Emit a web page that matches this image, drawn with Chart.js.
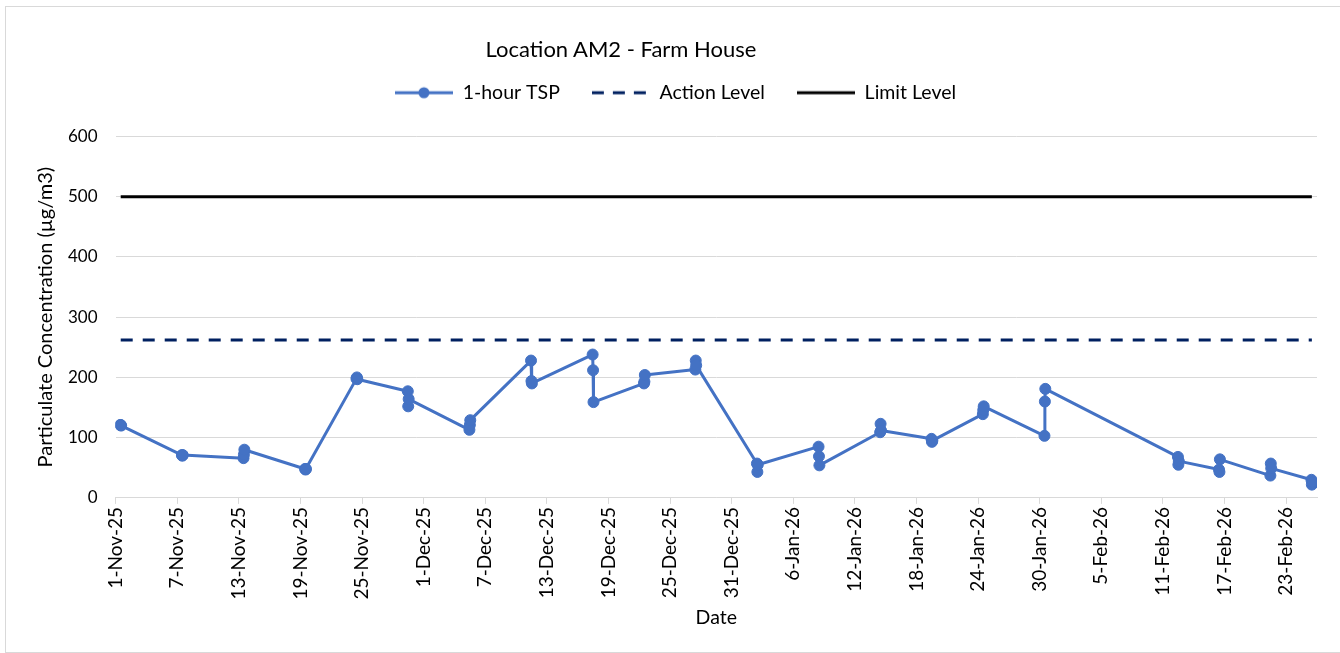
<!DOCTYPE html>
<html>
<head>
<meta charset="utf-8">
<script src="https://cdn.jsdelivr.net/npm/chart.js@4.4.1/dist/chart.umd.min.js"></script>
<style>
  html, body { margin: 0; padding: 0; background: #fff; }
  #frame { position: absolute; left: 5px; top: 6px; width: 1340px; height: 647px; border: 1px solid #d9d9d9; box-sizing: border-box; }
  #title { position: absolute; left: 0; top: 29px; width: 1230px; text-align: center; font: 22px Lato, sans-serif; line-height: 26px; color: #000; }
  #c { position: absolute; left: 0; top: 0; }
</style>
</head>
<body>
<div id="frame">
  <canvas id="c" width="1338" height="645"></canvas>
  <div id="title">Location AM2 - Farm House</div>
</div>
<script>
// sampling days and 1-hour TSP readings (µg/m3), three per day
const sampleDates = [
  '2025-11-01', '2025-11-07', '2025-11-13', '2025-11-19', '2025-11-24', '2025-11-29',
  '2025-12-05', '2025-12-11', '2025-12-17', '2025-12-22', '2025-12-27',
  '2026-01-02', '2026-01-08', '2026-01-14', '2026-01-19', '2026-01-24', '2026-01-30',
  '2026-02-12', '2026-02-16', '2026-02-21', '2026-02-25'
];
const readingTimes = ['11:00', '12:00', '13:00'];
const tspReadings = [
  [121, 121, 120], [71, 70, 71], [66, 72, 80], [48, 47, 48], [198, 200, 197], [177, 152, 164],
  [113, 121, 129], [228, 194, 190], [238, 212, 159], [190, 193, 204], [213, 228, 220],
  [57, 43, 55], [85, 69, 54], [109, 123, 112], [98, 93, 95], [139, 146, 152], [103, 160, 181],
  [68, 55, 61], [47, 43, 64], [37, 57, 49], [30, 22, 26]
];
const actionLevel = 262;
const limitLevel = 500;

// axis settings
const axisStart = '2025-11-01';
const axisEnd = '2026-02-26';
const dayStep = 6;
const yMax = 600;
const yStep = 100;

const months = ['Jan', 'Feb', 'Mar', 'Apr', 'May', 'Jun', 'Jul', 'Aug', 'Sep', 'Oct', 'Nov', 'Dec'];
const DAY = 24 * 60 * 60 * 1000;
const t0 = Date.parse(axisStart + 'T00:00:00Z');

const toDay = (date, time) => (Date.parse(date + 'T' + (time || '00:00') + ':00Z') - t0) / DAY;
const fmtDay = (d) => {
  const dt = new Date(t0 + d * DAY);
  return dt.getUTCDate() + '-' + months[dt.getUTCMonth()] + '-' + String(dt.getUTCFullYear()).slice(2);
};

const tspPoints = [];
sampleDates.forEach((d, i) => {
  tspReadings[i].forEach((v, j) => tspPoints.push({ x: toDay(d, readingTimes[j]), y: v }));
});
const levelPoints = (lvl) => sampleDates.map(d => ({ x: toDay(d, '12:00'), y: lvl }));

// legend icons: line with marker, dashed line, solid line
function legendIcon(color, dash, marker) {
  const cv = document.createElement('canvas');
  cv.width = 58; cv.height = 14;
  const g = cv.getContext('2d');
  g.strokeStyle = color; g.lineWidth = 3;
  g.setLineDash(dash);
  g.beginPath(); g.moveTo(0, 7); g.lineTo(58, 7); g.stroke();
  if (marker) {
    g.fillStyle = color;
    g.beginPath(); g.arc(29, 7, 5.5, 0, Math.PI * 2); g.fill();
  }
  return cv;
}
const icons = [
  legendIcon('#4472C4', [], true),
  legendIcon('#002060', [12, 9], false),
  legendIcon('#000000', [], false)
];

// extra room under the legend
const legendGap = {
  id: 'legendGap',
  beforeInit(chart) {
    const fit = chart.legend.fit;
    chart.legend.fit = function () {
      fit.call(this);
      this.height += 24;
    };
  }
};

const txt = '#000';

new Chart(document.getElementById('c'), {
  type: 'line',
  data: {
    datasets: [
      {
        label: '1-hour TSP', data: tspPoints,
        borderColor: '#4472C4', backgroundColor: '#4472C4', borderWidth: 3, borderJoinStyle: 'round',
        pointRadius: 5.5, pointBackgroundColor: '#4472C4', pointBorderColor: '#4472C4', pointBorderWidth: 1,
        tension: 0
      },
      {
        label: 'Action Level', data: levelPoints(actionLevel),
        borderColor: '#002060', borderWidth: 3, borderDash: [12, 10], pointRadius: 0
      },
      {
        label: 'Limit Level', data: levelPoints(limitLevel),
        borderColor: '#000000', borderWidth: 3, pointRadius: 0
      }
    ]
  },
  options: {
    responsive: false,
    animation: false,
    layout: { padding: { top: 44, right: 27, bottom: 19, left: 28 } },
    plugins: {
      tooltip: { enabled: false },
      legend: {
        position: 'top',
        labels: {
          usePointStyle: true, pointStyleWidth: 58, boxHeight: 14, padding: 32,
          color: txt, font: { family: 'Lato', size: 19.5 },
          generateLabels: (chart) => Chart.defaults.plugins.legend.labels.generateLabels(chart)
            .map((item, i) => Object.assign(item, { pointStyle: icons[i] }))
        }
      }
    },
    scales: {
      x: {
        type: 'linear',
        min: 0, max: toDay(axisEnd),
        ticks: {
          stepSize: dayStep, includeBounds: false, autoSkip: false,
          minRotation: 90, maxRotation: 90, color: txt,
          font: { family: 'Lato', size: 19 },
          callback: (v) => fmtDay(v)
        },
        grid: { drawOnChartArea: false, drawTicks: true, tickLength: 6, color: '#d9d9d9' },
        border: { display: true, color: '#d9d9d9' },
        title: { display: true, text: 'Date', color: txt, font: { family: 'Lato', size: 19.5 }, padding: { top: 3, bottom: 4 } }
      },
      y: {
        min: 0, max: yMax,
        ticks: { stepSize: yStep, color: txt, font: { family: 'Lato', size: 17 }, padding: 10 },
        grid: { color: '#d9d9d9', drawTicks: true, tickLength: 8, tickColor: 'rgba(0,0,0,0)' },
        border: { display: false },
        title: { display: true, text: 'Particulate Concentration (µg/m3)', color: txt, font: { family: 'Lato', size: 20 }, padding: { top: 0, bottom: 0 } }
      }
    }
  },
  plugins: [legendGap]
});
</script>
</body>
</html>
